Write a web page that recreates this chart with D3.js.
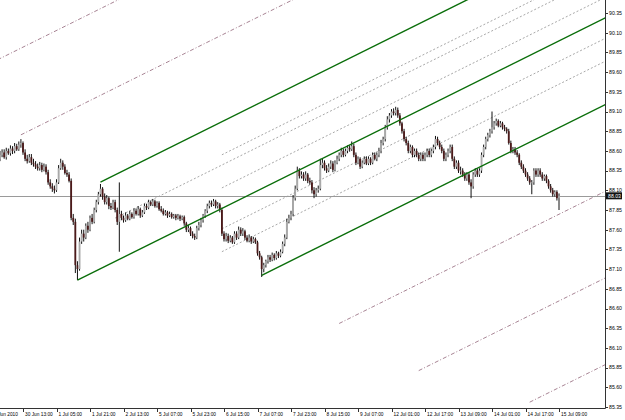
<!DOCTYPE html>
<html>
<head>
<meta charset="utf-8">
<script src="https://cdn.jsdelivr.net/npm/d3@7"></script>
<style>
  body { margin: 0; background: #fff; }
  svg { display: block; font-family: "Liberation Sans", Arial, sans-serif; }
</style>
</head>
<body>
<div id="chartDiv"></div>
<script>
// hourly candles, first bar index on the x axis
const firstBar = 5;
const opens = [
  88.5, 88.55, 88.58, 88.52, 88.6, 88.57, 88.63, 88.6, 88.66, 88.62,
  88.68, 88.7, 88.58, 88.5, 88.47, 88.52, 88.45, 88.43, 88.4, 88.38,
  88.42, 88.36, 88.4, 88.33, 88.2, 88.15, 88.12, 88.1, 88.2, 88.38,
  88.45, 88.4, 88.32, 88.3, 88.22, 87.75, 87.7, 87.15, 87.1, 87.45,
  87.55, 87.5, 87.65, 87.6, 87.75, 87.7, 87.85, 87.95, 88.05, 88.12,
  88.02, 87.95, 88.0, 87.9, 87.88, 87.95, 87.85, 87.7, 87.8, 87.75,
  87.72, 87.78, 87.74, 87.8, 87.76, 87.84, 87.8, 87.86, 87.78, 87.82,
  87.9, 87.88, 87.95, 87.92, 87.96, 87.9, 87.94, 87.86, 87.84, 87.8,
  87.82, 87.78, 87.8, 87.76, 87.78, 87.75, 87.77, 87.74, 87.76, 87.68,
  87.6, 87.62, 87.55, 87.52, 87.5, 87.62, 87.66, 87.72, 87.78, 87.84,
  87.9, 87.94, 87.92, 87.96, 87.9, 87.92, 87.85, 87.55, 87.48, 87.52,
  87.46, 87.5, 87.44, 87.55, 87.5, 87.6, 87.55, 87.58, 87.5, 87.46,
  87.5, 87.45, 87.48, 87.44, 87.3, 87.25, 87.1, 87.15, 87.2, 87.25,
  87.22, 87.28, 87.24, 87.3, 87.27, 87.32, 87.42, 87.5, 87.7, 87.75,
  87.8, 88.0, 88.12, 88.35, 88.28, 88.3, 88.25, 88.3, 88.22, 88.2,
  88.1, 88.05, 88.1, 88.12, 88.42, 88.45, 88.38, 88.35, 88.4, 88.44,
  88.36, 88.45, 88.5, 88.55, 88.6, 88.55, 88.6, 88.64, 88.62, 88.66,
  88.55, 88.45, 88.5, 88.4, 88.45, 88.5, 88.44, 88.5, 88.45, 88.55,
  88.5, 88.55, 88.6, 88.7, 88.75, 88.9, 89.0, 89.05, 89.1, 89.08,
  89.12, 89.05, 88.95, 88.85, 88.75, 88.7, 88.6, 88.65, 88.55, 88.6,
  88.55, 88.5, 88.55, 88.5, 88.55, 88.6, 88.55, 88.6, 88.65, 88.75,
  88.7, 88.65, 88.6, 88.5, 88.55, 88.6, 88.65, 88.5, 88.4, 88.45,
  88.35, 88.35, 88.3, 88.25, 88.3, 88.2, 88.15, 88.3, 88.35, 88.3,
  88.35, 88.55, 88.65, 88.75, 88.8, 88.85, 88.9, 88.95, 88.98, 88.92,
  88.95, 88.9, 88.88, 88.85, 88.7, 88.6, 88.62, 88.58, 88.55, 88.45,
  88.4, 88.35, 88.3, 88.25, 88.2, 88.2, 88.35, 88.3, 88.35, 88.3,
  88.25, 88.28, 88.22, 88.15, 88.1, 88.05, 88.08, 88.0
];
const highs = [
  88.6, 88.62, 88.62, 88.64, 88.63, 88.67, 88.66, 88.7, 88.69, 88.72,
  88.75, 88.72, 88.62, 88.55, 88.56, 88.56, 88.5, 88.47, 88.44, 88.46,
  88.45, 88.44, 88.43, 88.36, 88.24, 88.19, 88.16, 88.24, 88.42, 88.5,
  88.48, 88.43, 88.36, 88.33, 88.25, 87.8, 87.74, 87.2, 87.5, 87.6,
  87.6, 87.68, 87.7, 87.78, 87.8, 87.88, 87.98, 88.08, 88.18, 88.14,
  88.06, 88.04, 88.02, 87.94, 87.98, 87.98, 87.88, 88.2, 87.84, 87.78,
  87.82, 87.8, 87.84, 87.82, 87.87, 87.87, 87.9, 87.88, 87.85, 87.93,
  87.93, 87.98, 87.97, 87.99, 87.98, 87.96, 87.96, 87.9, 87.87, 87.85,
  87.84, 87.83, 87.82, 87.8, 87.8, 87.8, 87.79, 87.78, 87.78, 87.7,
  87.66, 87.64, 87.58, 87.55, 87.65, 87.7, 87.75, 87.8, 87.86, 87.93,
  87.97, 87.97, 87.99, 87.98, 87.95, 87.94, 87.88, 87.58, 87.56, 87.55,
  87.53, 87.52, 87.58, 87.58, 87.64, 87.63, 87.62, 87.6, 87.53, 87.54,
  87.52, 87.51, 87.5, 87.46, 87.33, 87.27, 87.18, 87.22, 87.28, 87.28,
  87.31, 87.3, 87.33, 87.32, 87.35, 87.45, 87.54, 87.74, 87.79, 87.84,
  88.04, 88.16, 88.4, 88.38, 88.34, 88.33, 88.34, 88.32, 88.26, 88.23,
  88.14, 88.13, 88.16, 88.5, 88.5, 88.48, 88.42, 88.44, 88.48, 88.47,
  88.48, 88.54, 88.58, 88.64, 88.63, 88.63, 88.67, 88.67, 88.72, 88.69,
  88.58, 88.53, 88.52, 88.48, 88.53, 88.53, 88.53, 88.52, 88.58, 88.58,
  88.58, 88.64, 88.74, 88.78, 88.93, 89.04, 89.08, 89.13, 89.14, 89.16,
  89.15, 89.08, 88.97, 88.88, 88.78, 88.73, 88.68, 88.67, 88.63, 88.63,
  88.58, 88.58, 88.58, 88.58, 88.63, 88.63, 88.63, 88.68, 88.79, 88.78,
  88.73, 88.68, 88.63, 88.58, 88.63, 88.68, 88.68, 88.53, 88.48, 88.48,
  88.4, 88.38, 88.33, 88.33, 88.33, 88.24, 88.33, 88.38, 88.38, 88.38,
  88.58, 88.68, 88.78, 88.83, 88.88, 89.1, 88.98, 89.01, 89.0, 88.98,
  88.97, 88.93, 88.9, 88.88, 88.73, 88.65, 88.65, 88.61, 88.57, 88.48,
  88.43, 88.38, 88.33, 88.28, 88.23, 88.38, 88.38, 88.38, 88.38, 88.33,
  88.3, 88.3, 88.24, 88.18, 88.13, 88.1, 88.1, 88.06
];
const lows = [
  88.47, 88.52, 88.5, 88.49, 88.55, 88.54, 88.56, 88.57, 88.6, 88.6,
  88.64, 88.55, 88.47, 88.44, 88.45, 88.42, 88.4, 88.37, 88.35, 88.35,
  88.33, 88.34, 88.3, 88.17, 88.12, 88.08, 88.06, 88.08, 88.18, 88.36,
  88.36, 88.3, 88.27, 88.2, 87.72, 87.66, 87.05, 86.96, 87.08, 87.42,
  87.45, 87.48, 87.56, 87.58, 87.67, 87.68, 87.82, 87.92, 88.02, 87.98,
  87.92, 87.92, 87.86, 87.85, 87.86, 87.82, 87.66, 87.32, 87.72, 87.69,
  87.7, 87.72, 87.72, 87.74, 87.74, 87.78, 87.78, 87.75, 87.76, 87.8,
  87.85, 87.86, 87.9, 87.9, 87.88, 87.88, 87.84, 87.82, 87.78, 87.78,
  87.75, 87.76, 87.74, 87.74, 87.72, 87.73, 87.71, 87.72, 87.65, 87.57,
  87.57, 87.52, 87.49, 87.47, 87.48, 87.59, 87.63, 87.69, 87.75, 87.81,
  87.87, 87.89, 87.9, 87.87, 87.87, 87.82, 87.52, 87.45, 87.45, 87.43,
  87.44, 87.42, 87.42, 87.47, 87.48, 87.52, 87.52, 87.47, 87.44, 87.44,
  87.42, 87.43, 87.42, 87.27, 87.22, 87.0, 87.06, 87.12, 87.17, 87.19,
  87.2, 87.21, 87.22, 87.24, 87.25, 87.3, 87.39, 87.48, 87.68, 87.72,
  87.77, 87.97, 88.1, 88.25, 88.25, 88.22, 88.22, 88.19, 88.17, 88.06,
  88.0, 88.02, 88.07, 88.1, 88.38, 88.35, 88.32, 88.33, 88.37, 88.33,
  88.34, 88.43, 88.47, 88.52, 88.52, 88.53, 88.57, 88.59, 88.6, 88.52,
  88.42, 88.43, 88.37, 88.38, 88.43, 88.42, 88.42, 88.42, 88.43, 88.48,
  88.47, 88.52, 88.57, 88.67, 88.72, 88.87, 88.96, 89.02, 89.05, 89.05,
  89.02, 88.92, 88.82, 88.72, 88.67, 88.57, 88.57, 88.52, 88.52, 88.52,
  88.47, 88.47, 88.47, 88.47, 88.52, 88.52, 88.52, 88.57, 88.62, 88.67,
  88.62, 88.57, 88.47, 88.47, 88.52, 88.57, 88.47, 88.37, 88.37, 88.32,
  88.3, 88.27, 88.22, 88.22, 88.17, 88.0, 88.12, 88.27, 88.27, 88.27,
  88.32, 88.52, 88.62, 88.72, 88.77, 88.82, 88.87, 88.92, 88.9, 88.9,
  88.87, 88.85, 88.82, 88.68, 88.57, 88.57, 88.55, 88.52, 88.42, 88.37,
  88.32, 88.27, 88.22, 88.17, 88.05, 88.17, 88.27, 88.27, 88.27, 88.22,
  88.22, 88.19, 88.12, 88.07, 88.02, 88.02, 87.97, 87.85
];
const closes = [
  88.55, 88.58, 88.52, 88.6, 88.57, 88.63, 88.6, 88.66, 88.62, 88.68,
  88.7, 88.58, 88.5, 88.47, 88.52, 88.45, 88.43, 88.4, 88.38, 88.42,
  88.36, 88.4, 88.33, 88.2, 88.15, 88.12, 88.1, 88.2, 88.38, 88.45,
  88.4, 88.32, 88.3, 88.22, 87.75, 87.7, 87.15, 87.1, 87.45, 87.55,
  87.5, 87.65, 87.6, 87.75, 87.7, 87.85, 87.95, 88.05, 88.12, 88.02,
  87.95, 88.0, 87.9, 87.88, 87.95, 87.85, 87.7, 87.8, 87.75, 87.72,
  87.78, 87.74, 87.8, 87.76, 87.84, 87.8, 87.86, 87.78, 87.82, 87.9,
  87.88, 87.95, 87.92, 87.96, 87.9, 87.94, 87.86, 87.84, 87.8, 87.82,
  87.78, 87.8, 87.76, 87.78, 87.75, 87.77, 87.74, 87.76, 87.68, 87.6,
  87.62, 87.55, 87.52, 87.5, 87.62, 87.66, 87.72, 87.78, 87.84, 87.9,
  87.94, 87.92, 87.96, 87.9, 87.92, 87.85, 87.55, 87.48, 87.52, 87.46,
  87.5, 87.44, 87.55, 87.5, 87.6, 87.55, 87.58, 87.5, 87.46, 87.5,
  87.45, 87.48, 87.44, 87.3, 87.25, 87.1, 87.15, 87.2, 87.25, 87.22,
  87.28, 87.24, 87.3, 87.27, 87.32, 87.42, 87.5, 87.7, 87.75, 87.8,
  88.0, 88.12, 88.35, 88.28, 88.3, 88.25, 88.3, 88.22, 88.2, 88.1,
  88.05, 88.1, 88.12, 88.42, 88.45, 88.38, 88.35, 88.4, 88.44, 88.36,
  88.45, 88.5, 88.55, 88.6, 88.55, 88.6, 88.64, 88.62, 88.66, 88.55,
  88.45, 88.5, 88.4, 88.45, 88.5, 88.44, 88.5, 88.45, 88.55, 88.5,
  88.55, 88.6, 88.7, 88.75, 88.9, 89.0, 89.05, 89.1, 89.08, 89.12,
  89.05, 88.95, 88.85, 88.75, 88.7, 88.6, 88.65, 88.55, 88.6, 88.55,
  88.5, 88.55, 88.5, 88.55, 88.6, 88.55, 88.6, 88.65, 88.75, 88.7,
  88.65, 88.6, 88.5, 88.55, 88.6, 88.65, 88.5, 88.4, 88.45, 88.35,
  88.35, 88.3, 88.25, 88.3, 88.2, 88.15, 88.3, 88.35, 88.3, 88.35,
  88.55, 88.65, 88.75, 88.8, 88.85, 88.9, 88.95, 88.98, 88.92, 88.95,
  88.9, 88.88, 88.85, 88.7, 88.6, 88.62, 88.58, 88.55, 88.45, 88.4,
  88.35, 88.3, 88.25, 88.2, 88.2, 88.35, 88.3, 88.35, 88.3, 88.25,
  88.28, 88.22, 88.15, 88.1, 88.05, 88.08, 88.0, 88.03
];
const lastPrice = 88.03;

// time axis, one label every 16 bars
const tickBars = [0, 16, 32, 48, 64, 80, 96, 112, 128, 144, 160, 176, 192, 208, 224, 240, 256, 272];
const tickLabels = ["30 Jun 2010", "30 Jun 13:00", "1 Jul 05:00", "1 Jul 21:00", "2 Jul 13:00",
  "5 Jul 07:00", "5 Jul 23:00", "6 Jul 15:00", "7 Jul 07:00", "7 Jul 23:00", "8 Jul 15:00",
  "9 Jul 07:00", "12 Jul 01:00", "12 Jul 17:00", "13 Jul 09:00", "14 Jul 01:00",
  "14 Jul 17:00", "15 Jul 09:00"];
const priceTicks = [85.35, 85.60, 85.85, 86.10, 86.35, 86.60, 86.85, 87.10, 87.35, 87.60,
  87.85, 88.10, 88.35, 88.60, 88.85, 89.10, 89.35, 89.60, 89.85, 90.10, 90.35];

// equidistant channel: base line through the 1 Jul low, levels in channel widths
const baseBar = 42, basePrice = 86.96, slopePerBar = 0.0132, channelWidth = 1.1;
const mainLevels = [1, 0, -1];
const mainStarts = [53, 42, 130];
const extLevels = [3, 2, -2, -3, -4];
const extStarts = [0, 15, 167, 205, 258];
const midLevels = [0.618, 0.5, 0.236, -0.236, -0.5];
const midStarts = [111, 60, 111, 111, 111];

var displayChart = function(){
  const W = 625, H = 420;
  const plotRight = 605, plotBottom = 408;

  const svg = d3.select('#chartDiv').append('svg')
    .attr('width', W).attr('height', H);

  const x = d3.scaleLinear().domain([0, 16]).range([-10.5, 23]);
  const y = d3.scaleLinear().domain([85.35, 90.35]).range([407, 13]);

  svg.append('clipPath').attr('id', 'plotClip')
    .append('rect').attr('x', 0).attr('y', 0).attr('width', plotRight).attr('height', plotBottom);

  const plot = svg.append('g').attr('clip-path', 'url(#plotClip)');

  const lineAt = (level, start) => {
    const end = 300;
    const p = b => basePrice + slopePerBar * (b - baseBar) + level * channelWidth;
    return [[start, p(start)], [end, p(end)]];
  };
  const seg = d3.line().x(d => x(d[0])).y(d => y(d[1]));

  // mid levels (dotted grey)
  plot.selectAll('.mid').data(midLevels).enter().append('path')
    .attr('d', (d, i) => seg(lineAt(d, midStarts[i])))
    .attr('fill', 'none').attr('stroke', '#a8a8a8').attr('stroke-width', 1)
    .attr('stroke-dasharray', '2,2');

  // extension levels (dash-dot)
  plot.selectAll('.ext').data(extLevels).enter().append('path')
    .attr('d', (d, i) => seg(lineAt(d, extStarts[i])))
    .attr('fill', 'none').attr('stroke', '#a88494').attr('stroke-width', 1)
    .attr('stroke-dasharray', '4,2,1,2');

  // current price line
  plot.append('line')
    .attr('x1', 0).attr('x2', plotRight)
    .attr('y1', Math.round(y(lastPrice)) + 0.5).attr('y2', Math.round(y(lastPrice)) + 0.5)
    .attr('stroke', '#9a9a9a').attr('stroke-width', 1);

  // candles
  const bars = closes.map((c, i) => ({ bar: firstBar + i, o: opens[i], h: highs[i], l: lows[i], c: c }));
  const candles = plot.selectAll('.candle').data(bars).enter().append('g');
  candles.append('line')
    .attr('x1', d => x(d.bar)).attr('x2', d => x(d.bar))
    .attr('y1', d => y(d.h)).attr('y2', d => y(d.l))
    .attr('stroke', '#111').attr('stroke-width', 1);
  candles.append('rect')
    .attr('x', d => x(d.bar) - 0.9).attr('width', 1.8)
    .attr('y', d => y(Math.max(d.o, d.c)))
    .attr('height', d => Math.max(0.8, Math.abs(y(d.o) - y(d.c))))
    .attr('fill', d => d.c >= d.o ? '#a9a9a9' : '#4c1a1a');

  // main channel lines (green)
  plot.selectAll('.main').data(mainLevels).enter().append('path')
    .attr('d', (d, i) => seg(lineAt(d, mainStarts[i])))
    .attr('fill', 'none').attr('stroke', '#0a6e0a').attr('stroke-width', 1.4);

  // frame
  svg.append('line').attr('x1', plotRight + 0.5).attr('x2', plotRight + 0.5)
    .attr('y1', 0).attr('y2', plotBottom + 0.5).attr('stroke', '#333');
  svg.append('line').attr('x1', 0).attr('x2', plotRight + 0.5)
    .attr('y1', plotBottom + 0.5).attr('y2', plotBottom + 0.5).attr('stroke', '#333');

  // price axis
  const yAxis = svg.append('g');
  yAxis.selectAll('line').data(priceTicks).enter().append('line')
    .attr('x1', plotRight).attr('x2', plotRight + 3)
    .attr('y1', d => Math.round(y(d)) + 0.5).attr('y2', d => Math.round(y(d)) + 0.5)
    .attr('stroke', '#333');
  yAxis.selectAll('text').data(priceTicks).enter().append('text')
    .attr('x', plotRight + 4).attr('y', d => y(d)).attr('dy', '0.35em')
    .attr('font-size', 5.2).attr('fill', '#000')
    .text(d => d.toFixed(2));

  // last price tag
  svg.append('rect').attr('x', plotRight + 1).attr('y', y(lastPrice) - 3.5)
    .attr('width', 16).attr('height', 7).attr('fill', '#111');
  svg.append('text').attr('x', plotRight + 3).attr('y', y(lastPrice)).attr('dy', '0.35em')
    .attr('font-size', 5.2).attr('fill', '#fff').text(lastPrice.toFixed(2));

  // time axis
  const xAxis = svg.append('g');
  xAxis.selectAll('line').data(tickBars).enter().append('line')
    .attr('x1', d => Math.round(x(d)) + 0.5).attr('x2', d => Math.round(x(d)) + 0.5)
    .attr('y1', plotBottom).attr('y2', plotBottom + 4)
    .attr('stroke', '#333');
  xAxis.selectAll('text').data(tickBars).enter().append('text')
    .attr('x', d => x(d) + 2).attr('y', plotBottom + 8)
    .attr('font-size', 4.8).attr('fill', '#000')
    .text((d, i) => tickLabels[i]);
};

displayChart();
</script>
</body>
</html>
